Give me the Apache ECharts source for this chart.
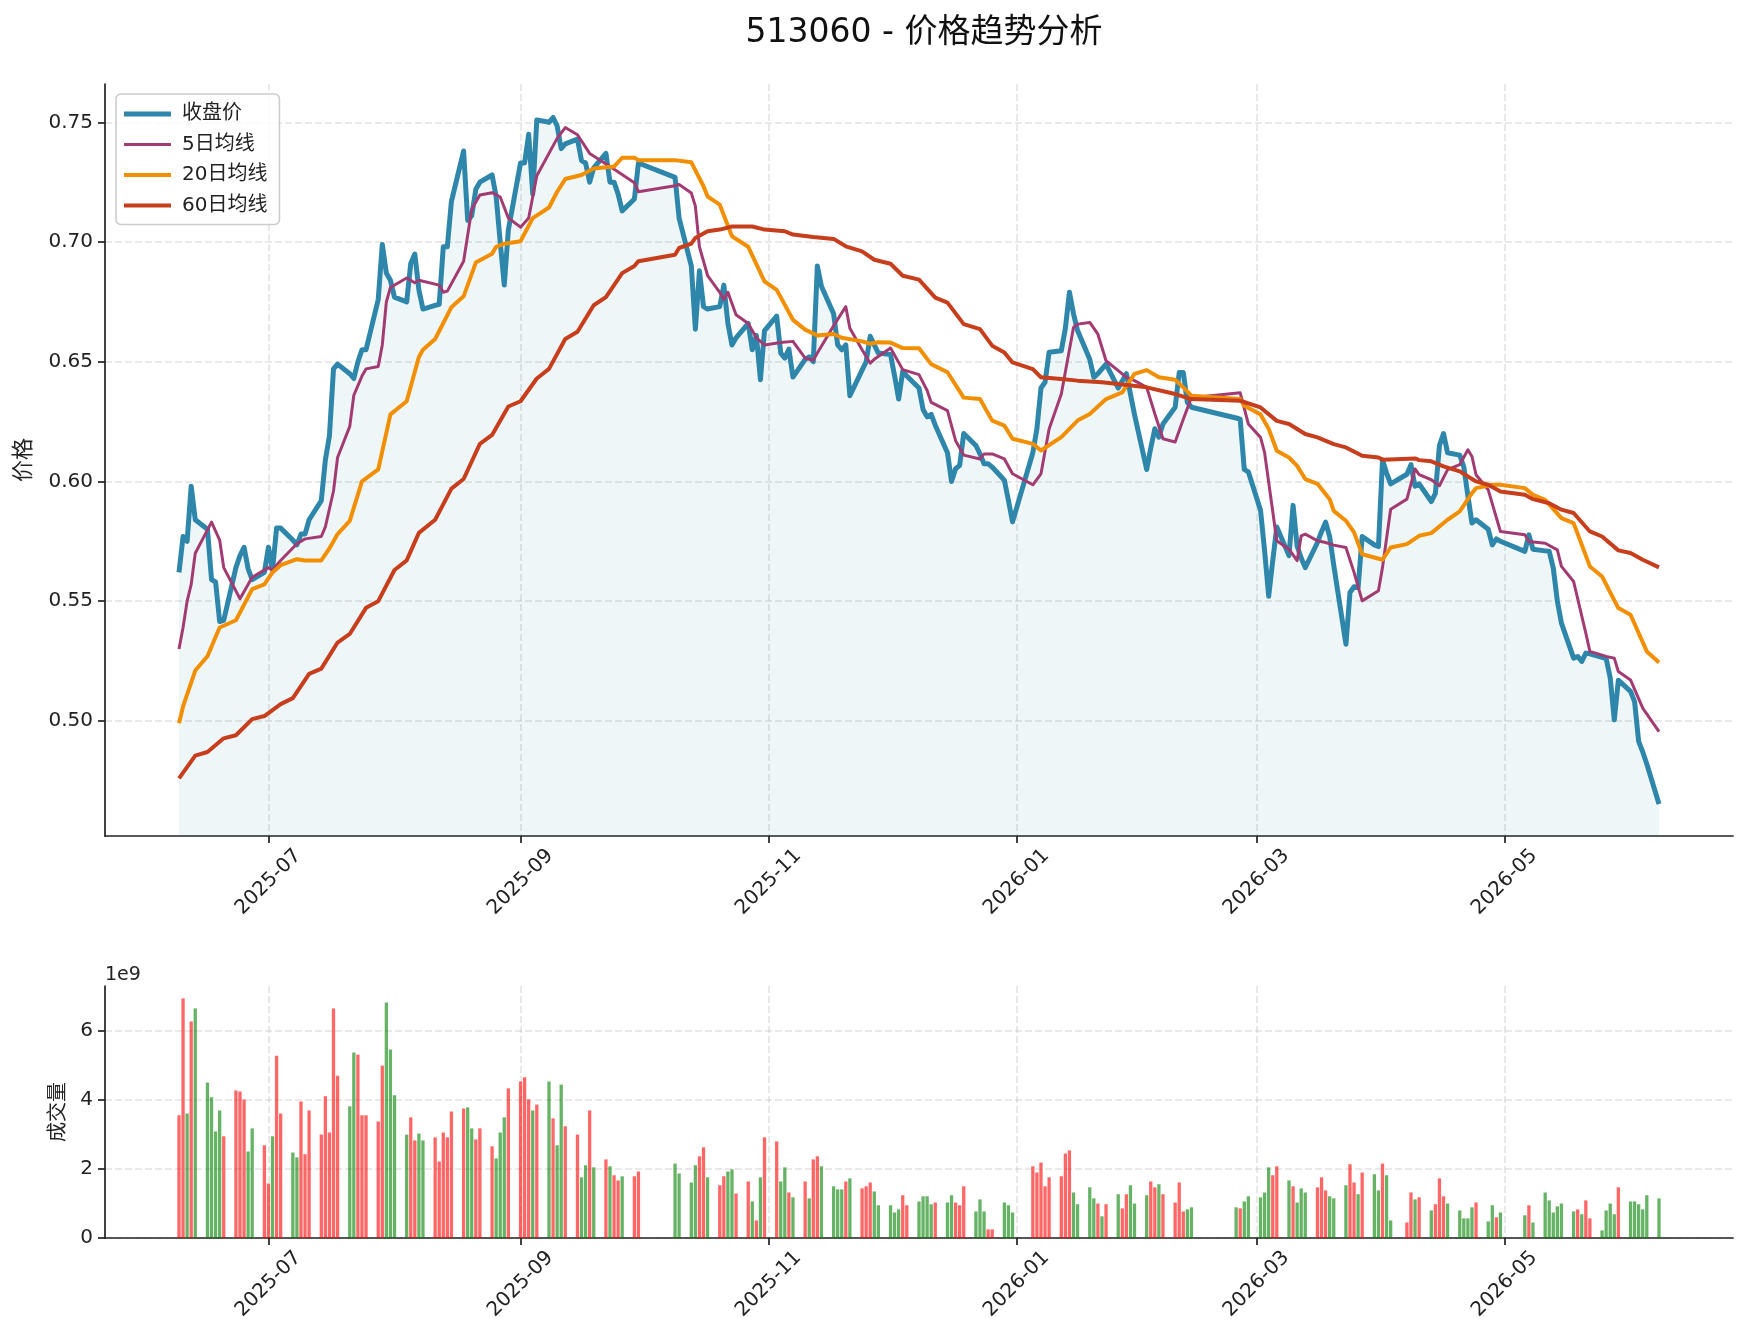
<!DOCTYPE html>
<html>
<head>
<meta charset="utf-8">
<title>513060 - 价格趋势分析</title>
<script src="https://cdn.jsdelivr.net/npm/echarts@6/dist/echarts.min.js"></script>
<style>
  html, body { margin: 0; padding: 0; background: #fff; }
  #chart { width: 1747px; height: 1338px; }
</style>
</head>
<body>
<div id="chart"></div>
<script>
// 交易日历：工作日，去掉节假日休市
const startDay = '2025-06-09'
const endDay = '2026-06-08'
const holidays = [
  '2025-10-01', '2025-10-02', '2025-10-03', '2025-10-06', '2025-10-07', '2025-10-08',
  '2026-01-01', '2026-01-02',
  '2026-02-16', '2026-02-17', '2026-02-18', '2026-02-19', '2026-02-20', '2026-02-23',
  '2026-04-06',
  '2026-05-01', '2026-05-04', '2026-05-05'
]

// 收盘价（按月）
const close2506 = [0.562, 0.577, 0.575, 0.598, 0.584, 0.580, 0.559, 0.558, 0.5415, 0.542, 0.564, 0.569, 0.5725, 0.5635, 0.559, 0.562]
const close2507 = [0.5725, 0.563, 0.5805, 0.5805, 0.5755, 0.5735, 0.578, 0.578, 0.584, 0.592, 0.609, 0.619, 0.647, 0.649, 0.645, 0.643, 0.650, 0.655, 0.655, 0.676, 0.699, 0.687, 0.684]
const close2508 = [0.677, 0.675, 0.691, 0.695, 0.680, 0.672, 0.6735, 0.674, 0.698, 0.698, 0.717, 0.738, 0.709, 0.711, 0.722, 0.725, 0.728, 0.719, 0.700, 0.682, 0.705]
const close2509 = [0.733, 0.733, 0.745, 0.720, 0.751, 0.750, 0.752, 0.7485, 0.739, 0.741, 0.743, 0.734, 0.733, 0.725, 0.731, 0.737, 0.725, 0.725, 0.720, 0.713, 0.718, 0.733]
const close2510 = [0.727, 0.710, 0.690, 0.6636, 0.688, 0.673, 0.672, 0.673, 0.682, 0.666, 0.657, 0.660, 0.666, 0.655, 0.661, 0.6425, 0.663]
const close2511 = [0.669, 0.6536, 0.6515, 0.6553, 0.6436, 0.651, 0.652, 0.650, 0.690, 0.6815, 0.670, 0.657, 0.655, 0.657, 0.6358, 0.6465, 0.650, 0.6606, 0.657, 0.6536]
const close2512 = [0.653, 0.644, 0.6344, 0.646, 0.644, 0.639, 0.630, 0.627, 0.628, 0.6235, 0.612, 0.600, 0.6053, 0.6067, 0.620, 0.615, 0.6115, 0.6074, 0.6074, 0.606, 0.6005, 0.592, 0.5831]
const close2601 = [0.612, 0.622, 0.639, 0.6414, 0.654, 0.6546, 0.664, 0.679, 0.670, 0.663, 0.651, 0.6435, 0.645, 0.647, 0.649, 0.639, 0.642, 0.645, 0.6365, 0.628]
const close2602 = [0.605, 0.614, 0.622, 0.6185, 0.624, 0.631, 0.6455, 0.6455, 0.633, 0.631, 0.6265, 0.626, 0.605, 0.604]
const close2603 = [0.588, 0.571, 0.552, 0.567, 0.581, 0.569, 0.590, 0.573, 0.568, 0.564, 0.5745, 0.579, 0.583, 0.577, 0.565, 0.532, 0.5536, 0.556, 0.5557, 0.577, 0.5735, 0.5728]
const close2604 = [0.609, 0.6035, 0.599, 0.603, 0.607, 0.598, 0.599, 0.5916, 0.595, 0.615, 0.620, 0.612, 0.611, 0.606, 0.594, 0.5826, 0.584, 0.580, 0.5735, 0.576, 0.575]
const close2605 = [0.5708, 0.5777, 0.5717, 0.571, 0.5708, 0.5638, 0.550, 0.5408, 0.5262, 0.5269, 0.5248, 0.5283, 0.528, 0.5265, 0.526, 0.518, 0.5004, 0.517]
const close2606 = [0.5123, 0.508, 0.4914, 0.487, 0.482, 0.4653]

// 成交量（单位 1e9，按月）与涨跌（R 涨 / G 跌）
const vol2506 = [3.56, 6.95, 3.61, 6.28, 6.66, 4.51, 4.08, 3.09, 3.70, 2.95, 4.28, 4.25, 4.02, 2.51, 3.18, 2.69]
const vol2507 = [1.58, 2.95, 5.29, 3.61, 2.48, 2.34, 3.96, 2.43, 3.70, 3.00, 4.11, 3.06, 6.66, 4.71, 3.82, 5.38, 5.32, 3.56, 3.56, 3.38, 5.00, 6.83, 5.47]
const vol2508 = [4.14, 3.00, 3.50, 2.83, 3.03, 2.83, 2.92, 2.22, 3.06, 2.92, 3.67, 3.76, 3.79, 3.18, 2.86, 3.18, 2.66, 2.31, 3.06, 3.50, 4.34]
const vol2509 = [4.54, 4.66, 4.02, 3.70, 3.87, 4.54, 3.47, 2.69, 4.45, 3.24, 3.00, 1.76, 2.11, 3.70, 2.05, 2.28, 2.08, 1.82, 1.67, 1.79, 1.79, 1.93]
const vol2510 = [2.16, 1.87, 1.61, 2.11, 2.37, 2.63, 1.76, 1.53, 1.79, 1.93, 1.99, 1.29, 1.64, 1.06, 0.51, 1.76, 2.92]
const vol2511 = [2.80, 1.64, 2.05, 1.32, 1.18, 1.64, 1.15, 2.28, 2.37, 2.08, 1.50, 1.41, 1.41, 1.64, 1.73, 1.44, 1.50, 1.61, 1.35, 0.95]
const vol2512 = [0.95, 0.74, 0.83, 1.24, 0.95, 1.06, 1.21, 1.21, 0.98, 1.03, 1.03, 1.24, 1.03, 0.95, 1.50, 0.77, 1.12, 0.77, 0.25, 0.25, 1.03, 0.95, 0.74]
const vol2601 = [2.08, 1.90, 2.19, 1.50, 1.76, 1.79, 2.45, 2.54, 1.32, 0.98, 1.47, 1.15, 1.00, 0.63, 0.98, 1.27, 0.86, 1.27, 1.53, 1.00]
const vol2602 = [1.24, 1.64, 1.47, 1.56, 1.27, 1.03, 1.61, 0.77, 0.83, 0.89, 0.89, 0.86, 1.06, 1.21]
const vol2603 = [1.18, 1.32, 2.05, 1.82, 2.08, 1.67, 1.50, 1.03, 1.44, 1.32, 1.47, 1.76, 1.38, 1.21, 1.15, 1.53, 2.14, 1.61, 1.27, 1.90, 1.85, 1.38]
const vol2604 = [2.16, 1.82, 0.51, 0.45, 1.32, 1.12, 1.18, 0.80, 0.98, 1.73, 1.21, 1.00, 0.80, 0.57, 0.57, 0.89, 1.03, 0.48, 0.95, 0.60, 0.74]
const vol2605 = [0.66, 0.95, 0.45, 1.32, 1.09, 0.74, 0.92, 1.00, 0.77, 0.83, 0.69, 1.09, 0.57, 0.22, 0.80, 1.00, 0.69, 1.47]
const vol2606 = [1.06, 1.06, 0.98, 0.83, 1.24, 1.15]
const upDown = 'RRGRGGGGGRRRRGGR' + 'RGRRGGRRRRRRRRGGRRRRRGG' + 'GGRRGGRRRRRRGGRRRGGGR' +
  'RRRGRGRGGRRGGRGRGRRGRR' + 'GGGGRRGRRGGRRGRGR' + 'RGGRGRGRRGGGGRGRRRGG' +
  'GGGRRGGGGRGGRRRGGGRRGGG' + 'RRRRRRRRGGGGRGRGRRGG' + 'GRRGRRRRGGGRGG' +
  'GGGRRGRGGGRRRGGGRRGRGG' + 'RGGRRGRGRRRGGGGGRGGRG' + 'GRGGGGGGGRGRRGGGGR' + 'GGGGGG'

// 均线（读图取点）
const ma5 = [
  ['2025-06-09', 0.530], ['2025-06-10', 0.539], ['2025-06-11', 0.550], ['2025-06-12', 0.557], ['2025-06-13', 0.570],
  ['2025-06-17', 0.583], ['2025-06-19', 0.5755], ['2025-06-20', 0.564], ['2025-06-24', 0.551], ['2025-06-27', 0.560],
  ['2025-07-01', 0.564], ['2025-07-02', 0.563], ['2025-07-04', 0.567], ['2025-07-08', 0.574], ['2025-07-10', 0.576],
  ['2025-07-14', 0.577], ['2025-07-15', 0.581], ['2025-07-17', 0.596], ['2025-07-18', 0.610], ['2025-07-21', 0.623],
  ['2025-07-22', 0.636], ['2025-07-24', 0.644], ['2025-07-25', 0.647], ['2025-07-28', 0.648], ['2025-07-29', 0.657],
  ['2025-07-30', 0.675], ['2025-07-31', 0.681], ['2025-08-04', 0.685], ['2025-08-06', 0.683], ['2025-08-07', 0.684],
  ['2025-08-12', 0.682], ['2025-08-13', 0.679], ['2025-08-14', 0.6795], ['2025-08-18', 0.692], ['2025-08-20', 0.7137],
  ['2025-08-22', 0.7196], ['2025-08-25', 0.7206], ['2025-08-27', 0.7188], ['2025-08-29', 0.710], ['2025-09-01', 0.7062],
  ['2025-09-03', 0.710], ['2025-09-05', 0.7277], ['2025-09-10', 0.7433], ['2025-09-12', 0.7478], ['2025-09-15', 0.7448],
  ['2025-09-18', 0.737], ['2025-09-23', 0.7315], ['2025-09-29', 0.7248], ['2025-09-30', 0.721], ['2025-10-09', 0.7235],
  ['2025-10-10', 0.724], ['2025-10-13', 0.7205], ['2025-10-14', 0.715], ['2025-10-15', 0.698], ['2025-10-17', 0.686],
  ['2025-10-20', 0.679], ['2025-10-21', 0.676], ['2025-10-22', 0.679], ['2025-10-24', 0.6696], ['2025-10-27', 0.666],
  ['2025-10-29', 0.660], ['2025-10-31', 0.657], ['2025-11-04', 0.658], ['2025-11-07', 0.6585], ['2025-11-10', 0.6515],
  ['2025-11-12', 0.6506], ['2025-11-13', 0.6536], ['2025-11-17', 0.665], ['2025-11-20', 0.673], ['2025-11-21', 0.664],
  ['2025-11-24', 0.655], ['2025-11-26', 0.6494], ['2025-11-27', 0.651], ['2025-12-01', 0.6557], ['2025-12-04', 0.6467],
  ['2025-12-08', 0.6446], ['2025-12-10', 0.638], ['2025-12-11', 0.633], ['2025-12-15', 0.6296], ['2025-12-17', 0.617],
  ['2025-12-19', 0.611], ['2025-12-23', 0.6094], ['2025-12-24', 0.6115], ['2025-12-26', 0.6115], ['2025-12-29', 0.6094],
  ['2025-12-31', 0.6032], ['2026-01-05', 0.5986], ['2026-01-07', 0.6032], ['2026-01-09', 0.6219], ['2026-01-12', 0.6365],
  ['2026-01-15', 0.6643], ['2026-01-16', 0.6657], ['2026-01-19', 0.6664], ['2026-01-21', 0.6615], ['2026-01-23', 0.6504],
  ['2026-01-26', 0.6463], ['2026-01-28', 0.6435], ['2026-01-30', 0.6421], ['2026-02-02', 0.6393], ['2026-02-04', 0.6282],
  ['2026-02-06', 0.6178], ['2026-02-09', 0.6165], ['2026-02-11', 0.626], ['2026-02-13', 0.635], ['2026-02-25', 0.637],
  ['2026-02-27', 0.624], ['2026-03-02', 0.6184], ['2026-03-03', 0.612], ['2026-03-06', 0.5752], ['2026-03-09', 0.5717],
  ['2026-03-11', 0.5669], ['2026-03-12', 0.5773], ['2026-03-13', 0.578], ['2026-03-16', 0.5752], ['2026-03-18', 0.5745],
  ['2026-03-20', 0.5734], ['2026-03-23', 0.5724], ['2026-03-25', 0.562], ['2026-03-27', 0.5501], ['2026-03-31', 0.5543],
  ['2026-04-01', 0.5641], ['2026-04-03', 0.5884], ['2026-04-07', 0.5926], ['2026-04-09', 0.6052], ['2026-04-10', 0.6028],
  ['2026-04-13', 0.6007], ['2026-04-15', 0.5982], ['2026-04-17', 0.6049], ['2026-04-20', 0.607], ['2026-04-22', 0.6132],
  ['2026-04-23', 0.6104], ['2026-04-24', 0.6028], ['2026-04-27', 0.5965], ['2026-04-30', 0.5791], ['2026-05-06', 0.5777],
  ['2026-05-07', 0.5749], ['2026-05-11', 0.5742], ['2026-05-14', 0.5714], ['2026-05-15', 0.5645], ['2026-05-18', 0.5582],
  ['2026-05-21', 0.5366], ['2026-05-22', 0.529], ['2026-05-26', 0.5269], ['2026-05-28', 0.5262], ['2026-05-29', 0.5206],
  ['2026-06-01', 0.5171], ['2026-06-04', 0.5053], ['2026-06-08', 0.4955]
]
const ma20 = [
  ['2025-06-09', 0.499], ['2025-06-10', 0.506], ['2025-06-13', 0.521], ['2025-06-16', 0.527], ['2025-06-18', 0.535],
  ['2025-06-19', 0.539], ['2025-06-23', 0.542], ['2025-06-27', 0.555], ['2025-06-30', 0.557], ['2025-07-02', 0.562],
  ['2025-07-04', 0.565], ['2025-07-08', 0.5675], ['2025-07-10', 0.567], ['2025-07-14', 0.567], ['2025-07-16', 0.572],
  ['2025-07-18', 0.578], ['2025-07-21', 0.5835], ['2025-07-24', 0.600], ['2025-07-28', 0.605], ['2025-07-31', 0.628],
  ['2025-08-04', 0.6335], ['2025-08-07', 0.652], ['2025-08-08', 0.655], ['2025-08-11', 0.6595], ['2025-08-15', 0.6728],
  ['2025-08-18', 0.6773], ['2025-08-21', 0.6914], ['2025-08-25', 0.6951], ['2025-08-26', 0.698], ['2025-08-28', 0.6993],
  ['2025-09-01', 0.7003], ['2025-09-04', 0.710], ['2025-09-08', 0.7144], ['2025-09-10', 0.721], ['2025-09-12', 0.7263],
  ['2025-09-16', 0.728], ['2025-09-19', 0.7307], ['2025-09-24', 0.7315], ['2025-09-26', 0.7352], ['2025-09-29', 0.7352],
  ['2025-09-30', 0.7342], ['2025-10-09', 0.7342], ['2025-10-13', 0.7333], ['2025-10-16', 0.7233], ['2025-10-17', 0.719],
  ['2025-10-20', 0.7156], ['2025-10-23', 0.7024], ['2025-10-27', 0.698], ['2025-10-31', 0.6836], ['2025-11-03', 0.680],
  ['2025-11-07', 0.6675], ['2025-11-10', 0.6634], ['2025-11-13', 0.661], ['2025-11-17', 0.6616], ['2025-11-19', 0.660],
  ['2025-11-24', 0.6585], ['2025-11-26', 0.6575], ['2025-11-28', 0.6581], ['2025-12-01', 0.658], ['2025-12-04', 0.6557],
  ['2025-12-08', 0.6556], ['2025-12-11', 0.649], ['2025-12-15', 0.6456], ['2025-12-19', 0.635], ['2025-12-23', 0.6344],
  ['2025-12-26', 0.6254], ['2025-12-29', 0.6233], ['2025-12-31', 0.6178], ['2026-01-05', 0.6157], ['2026-01-07', 0.6129],
  ['2026-01-12', 0.6185], ['2026-01-16', 0.6254], ['2026-01-19', 0.6282], ['2026-01-23', 0.6344], ['2026-01-27', 0.6372],
  ['2026-01-30', 0.6449], ['2026-02-02', 0.6465], ['2026-02-05', 0.6435], ['2026-02-09', 0.6425], ['2026-02-11', 0.6393],
  ['2026-02-13', 0.6358], ['2026-02-25', 0.6344], ['2026-02-26', 0.6316], ['2026-03-02', 0.628], ['2026-03-04', 0.622],
  ['2026-03-06', 0.6128], ['2026-03-09', 0.610], ['2026-03-11', 0.6065], ['2026-03-13', 0.601], ['2026-03-16', 0.599],
  ['2026-03-19', 0.5926], ['2026-03-20', 0.5877], ['2026-03-23', 0.5836], ['2026-03-25', 0.5787], ['2026-03-27', 0.5696],
  ['2026-04-01', 0.5673], ['2026-04-03', 0.5724], ['2026-04-07', 0.5738], ['2026-04-10', 0.5773], ['2026-04-13', 0.5784],
  ['2026-04-17', 0.584], ['2026-04-20', 0.5875], ['2026-04-23', 0.5951], ['2026-04-24', 0.5972], ['2026-04-28', 0.5986],
  ['2026-04-30', 0.5986], ['2026-05-06', 0.5972], ['2026-05-08', 0.5944], ['2026-05-11', 0.5923], ['2026-05-15', 0.5847],
  ['2026-05-18', 0.5826], ['2026-05-22', 0.5645], ['2026-05-25', 0.5603], ['2026-05-29', 0.5471], ['2026-06-01', 0.5443],
  ['2026-06-05', 0.529], ['2026-06-08', 0.5244]
]
const ma60 = [
  ['2025-06-09', 0.476], ['2025-06-13', 0.4855], ['2025-06-16', 0.487], ['2025-06-20', 0.4927], ['2025-06-23', 0.494],
  ['2025-06-27', 0.5007], ['2025-06-30', 0.502], ['2025-07-04', 0.507], ['2025-07-07', 0.5095], ['2025-07-11', 0.5196],
  ['2025-07-14', 0.5218], ['2025-07-18', 0.5327], ['2025-07-21', 0.5363], ['2025-07-25', 0.5472], ['2025-07-28', 0.550],
  ['2025-08-01', 0.563], ['2025-08-04', 0.567], ['2025-08-07', 0.5785], ['2025-08-11', 0.584], ['2025-08-15', 0.597],
  ['2025-08-18', 0.601], ['2025-08-22', 0.6157], ['2025-08-25', 0.6194], ['2025-08-29', 0.6313], ['2025-09-01', 0.6335],
  ['2025-09-05', 0.643], ['2025-09-08', 0.647], ['2025-09-12', 0.6595], ['2025-09-15', 0.6625], ['2025-09-19', 0.6736],
  ['2025-09-22', 0.677], ['2025-09-26', 0.687], ['2025-09-29', 0.690], ['2025-09-30', 0.692], ['2025-10-09', 0.6947],
  ['2025-10-10', 0.6975], ['2025-10-13', 0.6993], ['2025-10-14', 0.7017], ['2025-10-17', 0.7045], ['2025-10-20', 0.7052],
  ['2025-10-23', 0.7065], ['2025-10-28', 0.7065], ['2025-10-31', 0.7052], ['2025-11-05', 0.7045], ['2025-11-07', 0.7031],
  ['2025-11-12', 0.7021], ['2025-11-17', 0.7013], ['2025-11-20', 0.6982], ['2025-11-24', 0.6961], ['2025-11-27', 0.6926],
  ['2025-12-01', 0.6909], ['2025-12-04', 0.6859], ['2025-12-08', 0.6843], ['2025-12-12', 0.6768], ['2025-12-15', 0.6747],
  ['2025-12-19', 0.6657], ['2025-12-23', 0.6636], ['2025-12-26', 0.6567], ['2025-12-29', 0.6539], ['2025-12-31', 0.6497],
  ['2026-01-05', 0.6469], ['2026-01-07', 0.6435], ['2026-01-12', 0.6428], ['2026-01-16', 0.6421], ['2026-01-22', 0.6414],
  ['2026-01-26', 0.6407], ['2026-02-02', 0.6393], ['2026-02-09', 0.6365], ['2026-02-13', 0.6344], ['2026-02-25', 0.6337],
  ['2026-03-02', 0.6309], ['2026-03-06', 0.6253], ['2026-03-09', 0.624], ['2026-03-13', 0.6198], ['2026-03-16', 0.6184],
  ['2026-03-20', 0.6156], ['2026-03-23', 0.6142], ['2026-03-27', 0.6107], ['2026-03-31', 0.610], ['2026-04-01', 0.6091],
  ['2026-04-09', 0.6096], ['2026-04-10', 0.6089], ['2026-04-13', 0.6084], ['2026-04-16', 0.6063], ['2026-04-20', 0.6042],
  ['2026-04-24', 0.600], ['2026-04-27', 0.5986], ['2026-04-30', 0.5958], ['2026-05-06', 0.5944], ['2026-05-08', 0.5926],
  ['2026-05-12', 0.5909], ['2026-05-15', 0.5882], ['2026-05-18', 0.5868], ['2026-05-22', 0.5791], ['2026-05-25', 0.577],
  ['2026-05-29', 0.5712], ['2026-06-01', 0.5701], ['2026-06-04', 0.5673], ['2026-06-08', 0.5641]
]

// 刻度
const monthTicks = ['2025-07-01', '2025-09-01', '2025-11-01', '2026-01-01', '2026-03-01', '2026-05-01']
const priceTicks = [0.50, 0.55, 0.60, 0.65, 0.70, 0.75]
const volumeTicks = [0, 2, 4, 6]

const FONT = "'DejaVu Sans', 'Noto Sans CJK SC', sans-serif"
const INK = '#222222'
const gridLine = { color: 'rgba(176,176,176,0.35)', width: 1.6, type: [7, 3] }

function parseDay (s) {
  const p = s.split('-').map(Number)
  return new Date(p[0], p[1] - 1, p[2])
}
function dayKey (d) {
  const m = d.getMonth() + 1
  const day = d.getDate()
  return d.getFullYear() + '-' + (m < 10 ? '0' + m : m) + '-' + (day < 10 ? '0' + day : day)
}
function tradingDates () {
  const out = []
  const d = parseDay(startDay)
  const end = parseDay(endDay)
  while (d <= end) {
    const wd = d.getDay()
    if (wd !== 0 && wd !== 6 && holidays.indexOf(dayKey(d)) < 0) out.push(d.getTime())
    d.setDate(d.getDate() + 1)
  }
  return out
}

const dates = tradingDates()
const closes = [].concat(close2506, close2507, close2508, close2509, close2510, close2511, close2512,
  close2601, close2602, close2603, close2604, close2605, close2606)
const volumes = [].concat(vol2506, vol2507, vol2508, vol2509, vol2510, vol2511, vol2512,
  vol2601, vol2602, vol2603, vol2604, vol2605, vol2606)
if (dates.length !== closes.length || dates.length !== volumes.length || dates.length !== upDown.length) {
  console.warn('length mismatch', dates.length, closes.length, volumes.length, upDown.length)
}

const closeData = dates.map((t, i) => [t, closes[i]])
const volumeData = dates.map((t, i) => ({
  value: [t, volumes[i]],
  itemStyle: { color: upDown[i] === 'R' ? 'rgba(255,0,0,0.6)' : 'rgba(0,128,0,0.6)' }
}))
const toPairs = arr => arr.map(p => [parseDay(p[0]).getTime(), p[1]])

// x 轴两端各留 5% 边距
const span = dates[dates.length - 1] - dates[0]
const xMin = dates[0] - span * 0.05
const xMax = dates[dates.length - 1] + span * 0.05
const tickTimes = monthTicks.map(s => parseDay(s).getTime())

const fmtMonth = v => {
  const d = new Date(v)
  const m = d.getMonth() + 1
  return d.getFullYear() + '-' + (m < 10 ? '0' + m : m)
}

// 图例只画一段线（高 14 的框里居中一条粗 t 的横条）
const lineIcon = t => 'path://M0,0L0.01,0L0,0.01Z M0,14L0.01,14L0,13.99Z M0,' + (7 - t / 2) + 'H47V' + (7 + t / 2) + 'H0Z'

// 时间用毫秒数放在数值轴上，刻度只放每两个月的月初
const makeX = idx => ({
  type: 'value',
  gridIndex: idx,
  min: xMin,
  max: xMax,
  axisLine: { show: true, onZero: false, lineStyle: { color: INK, width: 1.7 } },
  axisTick: { show: true, inside: false, length: 7, lineStyle: { color: INK, width: 1.7 }, customValues: tickTimes },
  axisLabel: {
    rotate: 45,
    align: 'center',
    verticalAlign: 'middle',
    fontSize: 20,
    color: INK,
    margin: 46,
    fontFamily: FONT,
    customValues: tickTimes,
    formatter: fmtMonth
  },
  splitLine: { show: true, lineStyle: gridLine }
})

const lineSeries = (name, data, color, width, extra) => Object.assign({
  name: name,
  type: 'line',
  xAxisIndex: 0,
  yAxisIndex: 0,
  data: data,
  symbol: 'none',
  showSymbol: false,
  lineStyle: { color: color, width: width, join: 'round' },
  itemStyle: { color: color }
}, extra || {})

const chart = echarts.init(document.getElementById('chart'))
const option = {
  animation: false,
  backgroundColor: '#ffffff',
  textStyle: { fontFamily: FONT },
  title: {
    text: '513060 - 价格趋势分析',
    left: 919,
    top: 12,
    textAlign: 'center',
    textStyle: { fontSize: 33, fontWeight: 'normal', color: '#111', fontFamily: FONT }
  },
  legend: {
    data: [
      { name: '收盘价', icon: lineIcon(5) },
      { name: '5日均线', icon: lineIcon(3) },
      { name: '20日均线', icon: lineIcon(4) },
      { name: '60日均线', icon: lineIcon(4) }
    ],
    orient: 'vertical',
    left: 116,
    top: 94,
    itemWidth: 47,
    itemHeight: 14,
    itemGap: 10.5,
    padding: [10, 12, 9, 8],
    backgroundColor: 'rgba(255,255,255,0.8)',
    borderColor: '#cccccc',
    borderWidth: 1.6,
    borderRadius: 5,
    textStyle: { fontSize: 20, color: INK, fontFamily: FONT, padding: [0, 0, 0, 6] }
  },
  grid: [
    { left: 105, right: 14, top: 84, height: 752 },
    { left: 105, right: 14, top: 986, height: 252 }
  ],
  xAxis: [makeX(0), makeX(1)],
  yAxis: [
    {
      type: 'value',
      gridIndex: 0,
      min: 0.4519,
      max: 0.7660,
      name: '价格',
      nameLocation: 'middle',
      nameGap: 70,
      nameTextStyle: { fontSize: 22, color: INK, fontFamily: FONT },
      axisLine: { show: true, lineStyle: { color: INK, width: 1.7 } },
      axisTick: { show: true, length: 7, lineStyle: { color: INK, width: 1.7 }, customValues: priceTicks },
      axisLabel: { fontSize: 20, color: INK, margin: 12, fontFamily: FONT, customValues: priceTicks, formatter: v => v.toFixed(2) },
      splitLine: { show: true, lineStyle: gridLine }
    },
    {
      type: 'value',
      gridIndex: 1,
      min: 0,
      max: 7.31,
      name: '成交量',
      nameLocation: 'middle',
      nameGap: 36,
      nameTextStyle: { fontSize: 20, color: INK, fontFamily: FONT },
      axisLine: { show: true, lineStyle: { color: INK, width: 1.7 } },
      axisTick: { show: true, length: 7, lineStyle: { color: INK, width: 1.7 }, customValues: volumeTicks },
      axisLabel: { fontSize: 20, color: INK, margin: 12, fontFamily: FONT, customValues: volumeTicks, formatter: v => String(v) },
      splitLine: { show: true, lineStyle: gridLine }
    },
    {
      // 只用来放 1e9 的偏移标记
      type: 'value',
      gridIndex: 1,
      min: 0,
      max: 7.31,
      position: 'left',
      name: '1e9',
      nameLocation: 'end',
      nameGap: 11,
      nameTextStyle: { fontSize: 19, color: INK, fontFamily: FONT, align: 'left', verticalAlign: 'middle' },
      axisLine: { show: false },
      axisTick: { show: false },
      axisLabel: { show: false },
      splitLine: { show: false }
    }
  ],
  series: [
    lineSeries('收盘价', closeData, '#2E86AB', 5, {
      areaStyle: { color: 'rgba(46,134,171,0.11)', origin: 'start' }
    }),
    lineSeries('5日均线', toPairs(ma5), '#A23B72', 3),
    lineSeries('20日均线', toPairs(ma20), '#F18F01', 4),
    lineSeries('60日均线', toPairs(ma60), '#C73E1D', 4),
    {
      name: '成交量',
      type: 'bar',
      xAxisIndex: 1,
      yAxisIndex: 1,
      barWidth: 3.3,
      data: volumeData
    }
  ]
}
chart.setOption(option)
</script>
</body>
</html>
